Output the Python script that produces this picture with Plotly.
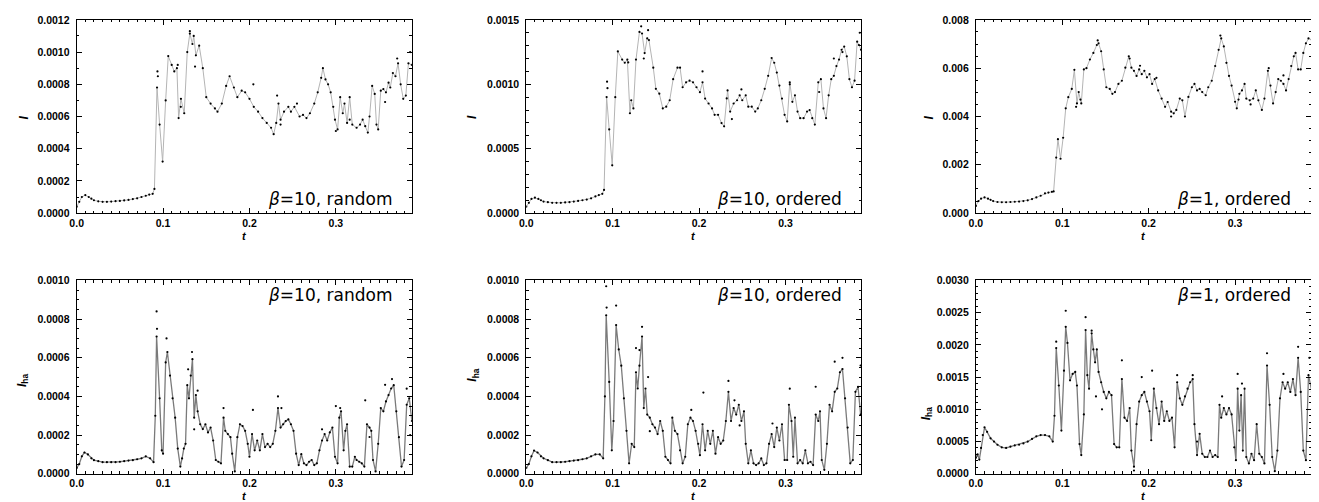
import plotly.graph_objects as go

# ---------------- data ----------------
# early (pre-burst) segments, t in [0, 0.09)
t_early_top = [0.000,0.003,0.006,0.010,0.014,0.017,0.020,0.025,0.030,0.035,0.040,0.045,0.050,0.055,0.060,0.065,0.070,0.075,0.080,0.084,0.088]
v_tl_early = [4.0e-5,7.0e-5,10.0e-5,11.2e-5,10.0e-5,9.0e-5,8.0e-5,7.3e-5,7.0e-5,7.0e-5,7.2e-5,7.4e-5,7.6e-5,7.9e-5,8.2e-5,8.7e-5,9.2e-5,10.0e-5,10.8e-5,11.5e-5,12.0e-5]
v_tm_early = [5e-5,8e-5,11e-5,12e-5,11e-5,10e-5,9e-5,8.5e-5,8e-5,8e-5,8e-5,8.3e-5,8.5e-5,9e-5,9.5e-5,10e-5,10.5e-5,11.5e-5,13e-5,14e-5,15e-5]
v_tr_early = [3e-4,5e-4,6e-4,6.5e-4,6e-4,5.5e-4,5e-4,4.6e-4,4.5e-4,4.5e-4,4.6e-4,4.7e-4,4.8e-4,5e-4,5.3e-4,5.8e-4,6.5e-4,7.2e-4,8.2e-4,8.5e-4,8.8e-4]
t_early_bot = [0.000,0.003,0.006,0.009,0.013,0.017,0.020,0.025,0.030,0.035,0.040,0.045,0.050,0.055,0.060,0.065,0.070,0.075,0.080,0.085,0.089]
v_bl_early = [3e-5,5e-5,9e-5,11e-5,10e-5,8e-5,7e-5,6.5e-5,6e-5,6e-5,6e-5,6e-5,6.2e-5,6.5e-5,6.8e-5,7e-5,7.5e-5,8e-5,9e-5,8e-5,6e-5]
v_bm_early = [3e-5,5e-5,9e-5,12e-5,11e-5,9e-5,8e-5,7e-5,6e-5,6e-5,6e-5,6.2e-5,6.5e-5,6.8e-5,7e-5,7.5e-5,8e-5,9e-5,10e-5,10e-5,8e-5]
t_early_br = [0.000,0.002,0.004,0.006,0.008,0.010,0.013,0.017,0.021,0.025,0.030,0.035,0.040,0.045,0.050,0.055,0.060,0.065,0.070,0.075,0.080,0.085,0.089]
v_br_early = [2.5e-4,3e-4,2.2e-4,4e-4,6e-4,7.2e-4,6.5e-4,5.5e-4,5e-4,4.5e-4,4.1e-4,4e-4,4.2e-4,4.4e-4,4.5e-4,4.7e-4,5e-4,5.4e-4,5.8e-4,6e-4,6e-4,5.8e-4,5e-4]

# Top-left: I, beta=10 random (burst onwards)
t_tl = [0.090,0.093,0.096,0.0995,0.103,0.106,0.110,
        0.113,0.116,0.118,0.1207,0.1245,0.128,0.131,0.134,0.1355,0.138,0.1418,0.146,0.150,0.155,0.160,0.163,0.168,0.173,0.177,0.182,
        0.186,0.191,0.195,0.200,0.205,0.210,0.215,0.220,0.225,0.228,0.231,0.2336,0.236,0.240,0.245,0.248,0.252,0.258,0.262,0.266,
        0.270,0.275,0.279,0.283,0.285,0.288,0.291,0.294,0.297,0.299,0.302,0.305,0.308,0.310,0.313,0.316,0.319,0.324,0.328,0.331,
        0.334,0.337,0.339,0.342,0.345,0.347,0.349,0.352,0.355,0.358,0.361,0.363,0.366,0.369,0.372,0.375,0.378,0.381,0.384,0.388]
v_tl = [0.000150,0.000780,0.000550,0.000320,0.000700,0.000975,0.000920,
        0.000880,0.000900,0.000590,0.000710,0.000620,0.001000,0.001115,0.001050,0.001100,0.000980,0.001040,0.000900,0.000720,0.000680,0.000650,0.000630,0.000680,0.000790,0.000850,0.000780,
        0.000720,0.000760,0.000750,0.000710,0.000660,0.000630,0.000590,0.000560,0.000530,0.000490,0.000560,0.000680,0.000580,0.000630,0.000660,0.000630,0.000660,0.000600,0.000610,0.000590,
        0.000620,0.000680,0.000750,0.000840,0.000900,0.000830,0.000800,0.000750,0.000660,0.000580,0.000520,0.000720,0.000620,0.000680,0.000560,0.000720,0.000550,0.000530,0.000550,0.000580,
        0.000540,0.000500,0.000600,0.000790,0.000740,0.000550,0.000520,0.000760,0.000770,0.000750,0.000810,0.000780,0.000870,0.000850,0.000930,0.000800,0.000710,0.000730,0.000930,0.000920]
t_tl_out = [0.0935,0.0940,0.117,0.1205,0.131,0.137,0.2045,0.232,0.236,0.255,0.300,0.316,0.357,0.371,0.386]
v_tl_out = [0.00088,0.00085,0.00092,0.00066,0.00113,0.00091,0.00080,0.00073,0.00055,0.00068,0.00051,0.00058,0.00069,0.00096,0.00100]

# Top-middle: I, beta=10 ordered
t_tm = [0.090,0.093,0.096,0.0995,0.103,0.106,0.111,0.114,0.117,
        0.120,0.1215,0.124,0.127,0.131,0.134,0.137,0.140,0.142,0.147,0.150,0.154,0.158,0.162,0.166,0.170,0.175,0.178,0.181,0.185,
        0.189,0.193,0.197,0.201,0.204,0.207,0.211,0.215,0.218,0.222,0.226,0.229,0.233,0.236,0.240,0.244,0.247,0.250,0.254,0.257,
        0.261,0.265,0.268,0.272,0.276,0.280,0.284,0.287,0.290,0.293,0.296,0.299,0.302,0.305,0.308,0.311,0.314,0.317,0.321,0.325,
        0.328,0.331,0.334,0.338,0.341,0.344,0.347,0.350,0.353,0.356,0.359,0.362,0.365,0.368,0.371,0.374,0.377,0.380,0.383,0.385,0.3874]
v_tm = [0.000180,0.000901,0.000650,0.000371,0.000900,0.001255,0.001192,0.001167,0.001192,
        0.000775,0.000876,0.000813,0.001192,0.001406,0.001394,0.001242,0.001356,0.001343,0.001129,0.000965,0.000927,0.000813,0.000826,0.000876,0.001040,0.001129,0.001129,0.000977,0.001015,
        0.001028,0.001015,0.000977,0.000939,0.001015,0.000889,0.000851,0.000813,0.000763,0.000763,0.000699,0.000674,0.000952,0.000788,0.000851,0.000876,0.000914,0.000876,0.000914,0.000826,
        0.000826,0.000788,0.000813,0.000876,0.000965,0.001066,0.001204,0.001167,0.001091,0.000990,0.000889,0.000763,0.000712,0.001015,0.000864,0.000914,0.000788,0.000737,0.000737,0.000788,
        0.000800,0.000737,0.000687,0.001015,0.001040,0.000813,0.000737,0.000914,0.001040,0.001066,0.001141,0.001192,0.001268,0.001293,0.001217,0.001040,0.000977,0.001028,0.001331,0.001305,0.001268]
t_tm_out = [0.0935,0.094,0.118,0.133,0.136,0.141,0.204,0.232,0.238,0.249,0.305,0.339,0.356,0.366,0.386]
v_tm_out = [0.00102,0.00097,0.00117,0.00145,0.00120,0.00142,0.00110,0.00089,0.00073,0.00096,0.00100,0.00094,0.00120,0.00125,0.00140]

# Top-right: I, beta=1 ordered
t_tr = [0.090,0.093,0.095,0.098,0.101,0.104,0.107,0.111,
        0.114,0.117,0.119,0.122,0.125,0.128,0.132,0.136,0.140,0.142,0.145,0.148,0.151,0.155,0.158,0.161,0.165,0.169,0.173,0.177,
        0.180,0.183,0.186,0.189,0.192,0.195,0.198,0.201,0.204,0.207,0.211,0.215,0.219,0.222,0.226,0.229,0.232,0.236,0.239,0.242,
        0.246,0.250,0.253,0.256,0.259,0.262,0.266,0.269,0.273,0.277,0.281,0.284,0.287,0.290,0.293,0.296,0.300,0.302,0.305,0.308,
        0.311,0.313,0.317,0.321,0.324,0.327,0.331,0.334,0.338,0.341,0.344,0.347,0.350,0.353,0.356,0.359,0.362,0.365,0.368,0.370,
        0.373,0.376,0.379,0.382,0.385,0.389]
v_tr = [0.00090,0.00230,0.00306,0.00225,0.00312,0.00434,0.00480,0.00514,
        0.00593,0.00454,0.00501,0.00454,0.00595,0.00600,0.00636,0.00663,0.00696,0.00703,0.00670,0.00595,0.00521,0.00514,0.00494,0.00501,0.00535,0.00548,0.00602,0.00649,
        0.00602,0.00589,0.00568,0.00595,0.00575,0.00589,0.00562,0.00575,0.00535,0.00555,0.00508,0.00474,0.00440,0.00460,0.00420,0.00413,0.00427,0.00474,0.00467,0.00400,
        0.00481,0.00521,0.00535,0.00508,0.00514,0.00501,0.00488,0.00521,0.00548,0.00609,0.00676,0.00723,0.00690,0.00622,0.00568,0.00528,0.00461,0.00434,0.00494,0.00508,
        0.00535,0.00474,0.00467,0.00474,0.00508,0.00467,0.00427,0.00474,0.00589,0.00528,0.00454,0.00501,0.00555,0.00548,0.00535,0.00508,0.00555,0.00609,0.00649,0.00663,
        0.00595,0.00595,0.00663,0.00703,0.00723,0.00717]
t_tr_out = [0.116,0.121,0.141,0.178,0.190,0.209,0.226,0.283,0.304,0.318,0.339,0.356]
v_tr_out = [0.00440,0.00470,0.00715,0.00640,0.00610,0.00560,0.00400,0.00735,0.00470,0.00450,0.00600,0.00570]

# Bottom-left: I_ha, beta=10 random
t_bl = [0.091,0.0925,0.096,0.0985,0.100,0.103,
        0.105,0.108,0.111,0.114,0.117,0.120,0.122,0.124,0.126,0.128,0.130,0.132,0.134,0.136,0.138,0.140,0.143,0.146,0.149,0.152,
        0.155,0.158,0.161,0.164,0.167,0.170,0.172,0.175,0.178,0.180,0.183,0.186,0.189,0.192,0.195,0.198,0.200,0.203,0.206,0.209,
        0.212,0.215,0.218,0.221,0.224,0.227,0.230,0.233,0.236,0.239,0.242,0.245,0.248,0.251,0.254,0.257,0.260,0.263,0.266,0.269,
        0.272,0.275,0.278,0.281,0.284,0.287,0.290,0.293,0.296,0.299,0.302,0.304,0.306,0.309,0.311,0.313,0.316,0.319,0.322,0.324,
        0.327,0.330,0.333,0.336,0.339,0.341,0.343,0.346,0.349,0.352,0.355,0.358,0.361,0.364,0.367,0.370,0.373,0.376,0.379,0.382,
        0.385,0.388]
v_bl = [0.000300,0.000710,0.000390,0.000121,0.000104,0.000576,
        0.000630,0.000508,0.000390,0.000290,0.000130,0.000037,0.000079,0.000130,0.000155,0.000458,0.000390,0.000508,0.000593,0.000290,0.000407,0.000323,0.000256,0.000231,0.000256,0.000214,
        0.000239,0.000172,0.000071,0.000062,0.000054,0.000290,0.000222,0.000205,0.000189,0.000104,0.000012,0.000189,0.000256,0.000247,0.000222,0.000155,0.000088,0.000205,0.000121,0.000172,
        0.000121,0.000205,0.000138,0.000155,0.000138,0.000155,0.000222,0.000340,0.000239,0.000256,0.000273,0.000281,0.000256,0.000222,0.000104,0.000045,0.000101,0.000054,0.000045,0.000062,
        0.000071,0.000045,0.000054,0.000121,0.000172,0.000205,0.000172,0.000214,0.000239,0.000088,0.000054,0.000290,0.000323,0.000121,0.000222,0.000256,0.000037,0.000037,0.000088,0.000071,
        0.000062,0.000054,0.000037,0.000256,0.000239,0.000222,0.000071,0.000012,0.000155,0.000340,0.000323,0.000374,0.000407,0.000441,0.000458,0.000323,0.000189,0.000037,0.000071,0.000357,
        0.000390,0.000273]
t_bl_out = [0.0925,0.093,0.104,0.129,0.1335,0.136,0.140,0.170,0.204,0.233,0.237,0.284,0.300,0.305,0.334,0.339,0.357,0.365,0.382,0.386]
v_bl_out = [0.00084,0.00075,0.00070,0.00054,0.00063,0.00023,0.00043,0.00034,0.00033,0.00040,0.00034,0.00023,0.00035,0.00034,0.00038,0.00019,0.00046,0.00049,0.00044,0.00020]

# Bottom-middle: I_ha, beta=10 ordered
t_bm = [0.091,0.0925,0.096,0.099,0.101,0.104,
        0.107,0.110,0.113,0.116,0.119,0.122,0.125,0.127,0.129,0.131,0.134,0.136,0.138,0.140,0.143,0.146,0.149,0.152,0.155,0.158,
        0.161,0.164,0.167,0.169,0.172,0.175,0.178,0.181,0.184,0.187,0.190,0.193,0.196,0.199,0.201,0.204,0.207,0.210,0.213,0.216,
        0.219,0.222,0.225,0.228,0.231,0.234,0.237,0.240,0.243,0.246,0.249,0.252,0.254,0.257,0.260,0.263,0.266,0.269,0.272,0.275,
        0.278,0.281,0.284,0.287,0.290,0.293,0.296,0.299,0.302,0.304,0.307,0.309,0.311,0.314,0.317,0.320,0.323,0.326,0.329,0.332,
        0.335,0.338,0.340,0.342,0.345,0.348,0.351,0.354,0.357,0.360,0.363,0.366,0.369,0.372,0.375,0.378,0.381,0.384,0.387]
v_bm = [0.000400,0.000820,0.000475,0.000121,0.000273,0.000769,
        0.000643,0.000559,0.000390,0.000222,0.000054,0.000155,0.000138,0.000525,0.000441,0.000559,0.000710,0.000340,0.000441,0.000306,0.000290,0.000256,0.000239,0.000205,0.000273,0.000222,
        0.000088,0.000071,0.000054,0.000290,0.000222,0.000205,0.000121,0.000054,0.000088,0.000256,0.000290,0.000273,0.000222,0.000155,0.000096,0.000256,0.000121,0.000222,0.000155,0.000222,
        0.000104,0.000189,0.000155,0.000172,0.000273,0.000424,0.000273,0.000340,0.000306,0.000357,0.000273,0.000323,0.000155,0.000054,0.000121,0.000054,0.000045,0.000054,0.000079,0.000045,
        0.000054,0.000155,0.000205,0.000138,0.000239,0.000172,0.000256,0.000071,0.000071,0.000357,0.000273,0.000088,0.000290,0.000054,0.000071,0.000054,0.000121,0.000054,0.000062,0.000045,
        0.000306,0.000273,0.000323,0.000071,0.000020,0.000155,0.000357,0.000323,0.000424,0.000441,0.000525,0.000542,0.000390,0.000239,0.000054,0.000071,0.000424,0.000449,0.000306]
t_bm_out = [0.0925,0.093,0.104,0.127,0.131,0.134,0.141,0.143,0.191,0.205,0.234,0.241,0.247,0.285,0.305,0.335,0.357,0.366,0.387]
v_bm_out = [0.00097,0.00086,0.00087,0.00065,0.00064,0.00076,0.00050,0.00022,0.00033,0.00042,0.00048,0.00038,0.00025,0.00026,0.00044,0.00045,0.00058,0.00060,0.00056]

# Bottom-right: I_ha, beta=1 ordered
t_br = [0.091,0.093,
        0.096,0.099,0.102,0.104,0.106,0.109,0.112,0.115,0.117,0.120,0.122,0.125,0.127,0.129,0.131,0.134,0.136,0.138,0.140,0.142,
        0.145,0.148,0.151,0.154,0.157,0.160,0.163,0.166,0.169,0.172,0.175,0.178,0.180,0.183,0.186,0.189,0.192,0.195,0.198,0.201,
        0.203,0.206,0.209,0.212,0.215,0.218,0.221,0.224,0.227,0.230,0.233,0.236,0.239,0.242,0.245,0.248,0.251,0.253,0.256,0.259,
        0.262,0.265,0.268,0.271,0.274,0.277,0.280,0.282,0.284,0.287,0.290,0.293,0.296,0.299,0.301,0.303,0.305,0.307,0.309,0.311,
        0.313,0.316,0.319,0.322,0.325,0.328,0.331,0.334,0.337,0.340,0.343,0.346,0.349,0.352,0.355,0.358,0.361,0.364,0.367,0.370,
        0.373,0.376,0.379,0.382,0.385,0.389]
v_br = [0.00090,0.00195,
        0.00137,0.00067,0.00160,0.00228,0.00203,0.00145,0.00155,0.00158,0.00137,0.00046,0.00029,0.00092,0.00223,0.00153,0.00132,0.00218,0.00193,0.00173,0.00193,0.00158,
        0.00142,0.00127,0.00117,0.00127,0.00122,0.00046,0.00041,0.00041,0.00147,0.00087,0.00082,0.00102,0.00036,0.00011,0.00077,0.00112,0.00122,0.00127,0.00112,0.00097,
        0.00052,0.00132,0.00102,0.00077,0.00112,0.00082,0.00097,0.00082,0.00087,0.00041,0.00142,0.00117,0.00107,0.00120,0.00132,0.00142,0.00147,0.00077,0.00029,0.00062,
        0.00031,0.00026,0.00026,0.00036,0.00026,0.00029,0.00026,0.00107,0.00087,0.00102,0.00092,0.00102,0.00092,0.00041,0.00021,0.00132,0.00067,0.00122,0.00036,0.00132,
        0.00026,0.00016,0.00031,0.00021,0.00077,0.00031,0.00026,0.00016,0.00168,0.00107,0.00026,0.00004,0.00036,0.00117,0.00142,0.00132,0.00142,0.00127,0.00147,0.00122,
        0.00180,0.00127,0.00036,0.00021,0.00153,0.00127]
t_br_out = [0.093,0.104,0.127,0.134,0.139,0.146,0.169,0.183,0.192,0.204,0.233,0.251,0.256,0.285,0.303,0.308,0.337,0.356,0.373,0.386]
v_br_out = [0.00205,0.00253,0.00243,0.00222,0.00120,0.00100,0.00176,0.00005,0.00150,0.00160,0.00153,0.00153,0.00050,0.00120,0.00155,0.00140,0.00187,0.00155,0.00197,0.00180]

panels = [
    (t_early_top + t_tl, v_tl_early + v_tl, t_tl_out, v_tl_out, 0.0012, 0.0002, 0.0001, ".4f", "top", "<i>β</i>=10, random", "<i>I</i>"),
    (t_early_top + t_tm, v_tm_early + v_tm, t_tm_out, v_tm_out, 0.0015, 0.0005, 0.0001, ".4f", "top", "<i>β</i>=10, ordered", "<i>I</i>"),
    (t_early_top + t_tr, v_tr_early + v_tr, t_tr_out, v_tr_out, 0.008, 0.002, 0.0005, ".3f", "top", "<i>β</i>=1, ordered", "<i>I</i>"),
    (t_early_bot + t_bl, v_bl_early + v_bl, t_bl_out, v_bl_out, 0.0010, 0.0002, 0.00005, ".4f", "bot", "<i>β</i>=10, random", "<i>I</i><sub>ha</sub>"),
    (t_early_bot + t_bm, v_bm_early + v_bm, t_bm_out, v_bm_out, 0.0010, 0.0002, 0.00005, ".4f", "bot", "<i>β</i>=10, ordered", "<i>I</i><sub>ha</sub>"),
    (t_early_br + t_br, v_br_early + v_br, t_br_out, v_br_out, 0.0030, 0.0005, 0.0001, ".4f", "bot", "<i>β</i>=1, ordered", "<i>I</i><sub>ha</sub>"),
]

W, H = 1319, 502
x_px = [(62, 399), (514, 851), (966, 1303)]
y_px = {"top": (6, 204), "bot": (273, 471)}
ylab_px = [(10, 106), (460, 106), (919, 106), (8, 375), (461, 370), (917, 410)]

fig = go.Figure()
layout = dict(width=W, height=H, margin=dict(l=0, r=0, t=0, b=0),
              paper_bgcolor="white", plot_bgcolor="white", showlegend=False,
              annotations=[])
tickfont = dict(family="Liberation Sans, Arial", size=10.5, color="black", weight="bold")

for i, (tt, vv, to, vo, ymax, dmaj, dmin, fmt, row, label, ytitle) in enumerate(panels):
    k = "" if i == 0 else str(i + 1)
    xa, ya = "x" + k, "y" + k
    col = i % 3
    x0, x1 = x_px[col]
    yt, yb = y_px[row]
    lc = "#b4b4b4" if row == "top" else "#7a7a7a"
    lw = 1.0 if row == "top" else 1.3
    fig.add_trace(go.Scatter(x=tt, y=vv, mode="lines", line=dict(color=lc, width=lw),
                             xaxis=xa, yaxis=ya, hoverinfo="skip"))
    fig.add_trace(go.Scatter(x=tt + to, y=vv + vo, mode="markers",
                             marker=dict(color="black", size=2.2, line=dict(width=0)),
                             xaxis=xa, yaxis=ya, hoverinfo="skip"))
    layout["xaxis" + k] = dict(
        domain=[x0 / W, x1 / W], anchor=ya, range=[0, 0.388],
        dtick=0.1, tick0=0, tickformat=".1f", ticks="inside", ticklen=5, tickwidth=1,
        tickcolor="black", minor=dict(dtick=0.01, ticks="inside", ticklen=2.5, tickcolor="black"),
        showline=True, linecolor="black", linewidth=1, mirror="ticks",
        showgrid=False, zeroline=False, tickfont=tickfont)
    layout["yaxis" + k] = dict(
        domain=[1 - yb / H, 1 - yt / H], anchor=xa, range=[0, ymax],
        dtick=dmaj, tick0=0, tickformat=fmt, ticks="inside", ticklen=5, tickwidth=1,
        tickcolor="black", minor=dict(dtick=dmin, ticks="inside", ticklen=2.5, tickcolor="black"),
        showline=True, linecolor="black", linewidth=1, mirror="ticks",
        showgrid=False, zeroline=False, tickfont=tickfont, ticklabelstandoff=4)
    # panel label
    ytxt = (yb - 14) if row == "top" else (yt + 15)
    layout["annotations"].append(dict(
        text=label, xref="paper", yref="paper", x=(x1 - 18) / W, y=1 - ytxt / H,
        xanchor="right", yanchor="middle", showarrow=False,
        font=dict(family="DejaVu Sans", size=17, color="black")))
    # x title
    layout["annotations"].append(dict(
        text="<i>t</i>", xref="paper", yref="paper", x=(x0 + x1) / 2 / W, y=1 - (yb + 23) / H,
        xanchor="center", yanchor="middle", showarrow=False,
        font=dict(family="Liberation Sans, Arial", size=11, color="black", weight="bold")))
    # y title
    lx, ly = ylab_px[i]
    layout["annotations"].append(dict(
        text=ytitle, xref="paper", yref="paper", x=lx / W, y=1 - ly / H, textangle=-90,
        xanchor="center", yanchor="middle", showarrow=False,
        font=dict(family="Liberation Sans, Arial", size=12, color="black", weight="bold")))

fig.update_layout(**layout)
fig.write_html("out.html")
